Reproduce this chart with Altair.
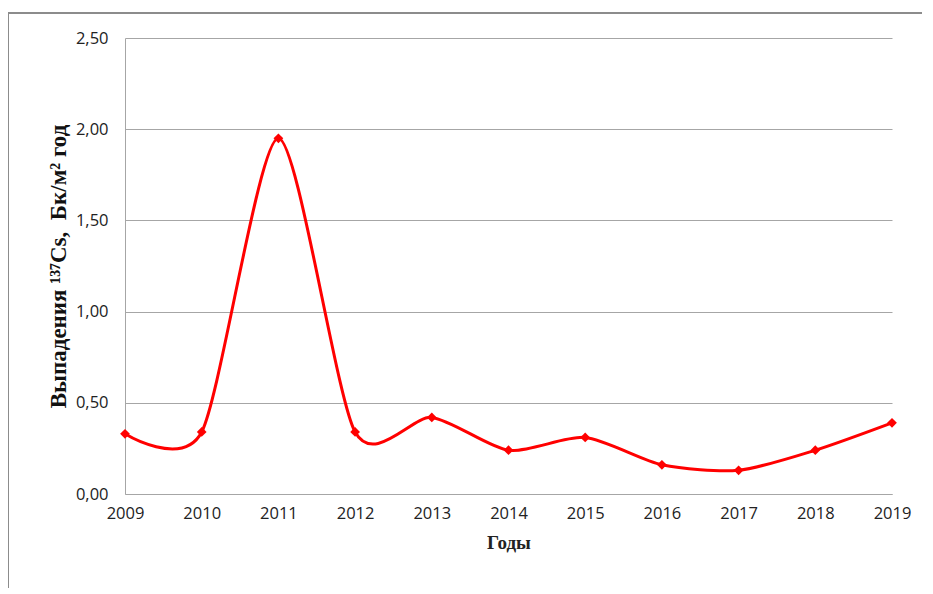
import altair as alt
import pandas as pd

years = [2009, 2010, 2011, 2012, 2013, 2014, 2015, 2016, 2017, 2018, 2019]
deposition = [0.33, 0.34, 1.95, 0.34, 0.42, 0.24, 0.31, 0.16, 0.13, 0.24, 0.39]
y_ticks = [0.0, 0.5, 1.0, 1.5, 2.0, 2.5]

df = pd.DataFrame({"year": years, "value": deposition})

x_enc = alt.X(
    "year:Q",
    scale=alt.Scale(domain=[2009, 2019], nice=False, zero=False),
    axis=alt.Axis(
        values=years, format="d", title="Годы", grid=False, ticks=False,
        labelPadding=11, labelFontSize=16.5, labelFont="Open Sans", labelColor="#222",
        titleFont="Liberation Serif", titleFontSize=19, titleFontWeight="bold",
        titlePadding=12, titleColor="#222", domainColor="#a6a6a6", labelFlush=False,
    ),
)
y_enc = alt.Y(
    "value:Q",
    scale=alt.Scale(domain=[0, 2.5], nice=False),
    axis=alt.Axis(
        values=y_ticks, labelExpr="replace(format(datum.value, '.2f'), '.', ',')",
        title="Выпадения ¹³⁷Cs,\u00a0 Бк/м² год", ticks=False, grid=True,
        gridColor="#a6a6a6", domainColor="#a6a6a6",
        labelPadding=17, labelFontSize=16.5, labelFont="Open Sans", labelColor="#222",
        titleFont="Liberation Serif", titleFontSize=23, titleFontWeight="bold",
        titlePadding=5, titleColor="#111",
    ),
)

line = alt.Chart(df).mark_line(color="#ff0000", strokeWidth=3, interpolate="cardinal", tension=0.25).encode(x=x_enc, y=y_enc)
pts = alt.Chart(df).mark_point(shape="diamond", filled=True, color="#ff0000", size=95, opacity=1).encode(x="year:Q", y="value:Q")

frame_top = alt.Chart(df).mark_rule(color="#8c8c8c", strokeWidth=1.5).encode(
    x=alt.value(-117), x2=alt.value(800), y=alt.value(-25), y2=alt.value(-25))
frame_left = alt.Chart(df).mark_rule(color="#8c8c8c", strokeWidth=1.5).encode(
    x=alt.value(-117), x2=alt.value(-117), y=alt.value(-25), y2=alt.value(580))

chart = alt.layer(frame_top, frame_left, line, pts).properties(
    width=767, height=456,
    autosize=alt.AutoSizeParams(type="none"),
    padding={"left": 117, "top": 30, "right": 30, "bottom": 94},
).configure_view(stroke=None)

chart.save("out.html", embed_options={"renderer": "svg", "actions": False})
